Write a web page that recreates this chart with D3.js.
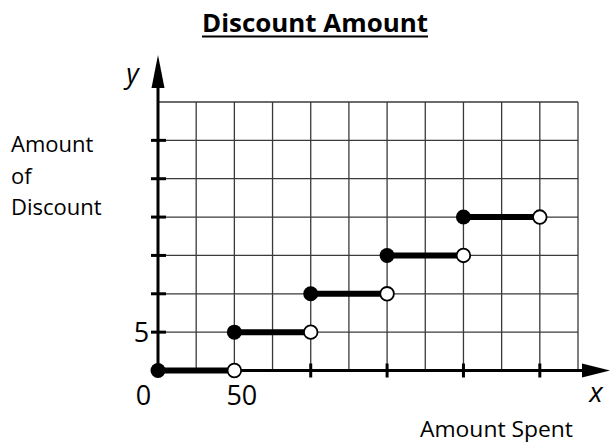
<!DOCTYPE html>
<html>
<head>
<meta charset="utf-8">
<script src="https://cdn.jsdelivr.net/npm/d3@7"></script>
<style>
  html, body { margin: 0; padding: 0; background: #fff; }
  svg { display: block; font-family: "Open Sans", sans-serif; }
</style>
</head>
<body>
<svg id="chart" width="612" height="445"></svg>
<script>
// ---- data ----
const stepStarts = [0, 50, 100, 150, 200];
const stepEnds   = [50, 100, 150, 200, 250];
const stepValues = [0, 5, 10, 15, 20];
const xTickValues = [50, 100, 150, 200, 250];
const yTickValues = [5, 10, 15, 20, 25, 30];
const xGridValues = [25, 50, 75, 100, 125, 150, 175, 200, 225, 250, 275];
const yGridValues = [5, 10, 15, 20, 25, 30, 35];
const xTickLabels = [{v: 0, t: "0"}, {v: 50, t: "50"}];
const yTickLabels = [{v: 5, t: "5"}];
const title = "Discount Amount";
const xAxisTitle = "Amount Spent";
const yAxisTitle = ["Amount", "of", "Discount"];

const svg = d3.select("#chart");
const x = d3.scaleLinear().domain([0, 275]).range([158, 578]);
const y = d3.scaleLinear().domain([0, 35]).range([370.5, 102]);

// grid
const grid = svg.append("g").attr("stroke", "#3a3a3a").attr("stroke-width", 1.3);
grid.selectAll("line.v").data(xGridValues).join("line")
  .attr("x1", d => x(d)).attr("x2", d => x(d))
  .attr("y1", y(0)).attr("y2", y(35));
grid.selectAll("line.h").data(yGridValues).join("line")
  .attr("x1", x(0)).attr("x2", x(275))
  .attr("y1", d => y(d)).attr("y2", d => y(d));

// axes
const ax = svg.append("g");
ax.append("line").attr("x1", x(0)).attr("x2", 586).attr("y1", y(0)).attr("y2", y(0))
  .attr("stroke", "#000").attr("stroke-width", 3);
ax.append("path").attr("d", `M610,${y(0)} L582,${y(0) - 7} L582,${y(0) + 7} Z`).attr("fill", "#000");
ax.append("line").attr("x1", x(0)).attr("x2", x(0)).attr("y1", y(0)).attr("y2", 84)
  .attr("stroke", "#000").attr("stroke-width", 3);
ax.append("path").attr("d", `M${x(0)},55 L${x(0) - 6.5},88 L${x(0) + 6.5},88 Z`).attr("fill", "#000");

// ticks
ax.selectAll("line.xt").data(xTickValues).join("line")
  .attr("x1", d => x(d)).attr("x2", d => x(d))
  .attr("y1", y(0) - 7).attr("y2", y(0) + 7)
  .attr("stroke", "#000").attr("stroke-width", 3);
ax.selectAll("line.yt").data(yTickValues).join("line")
  .attr("x1", x(0) - 7).attr("x2", x(0) + 8)
  .attr("y1", d => y(d)).attr("y2", d => y(d))
  .attr("stroke", "#000").attr("stroke-width", 3);

// step segments
const idx = d3.range(stepStarts.length);
svg.append("g").selectAll("line").data(idx).join("line")
  .attr("x1", i => x(stepStarts[i])).attr("x2", i => x(stepEnds[i]))
  .attr("y1", i => y(stepValues[i])).attr("y2", i => y(stepValues[i]))
  .attr("stroke", "#000").attr("stroke-width", 6);

// closed points
svg.append("g").selectAll("circle").data(idx).join("circle")
  .attr("cx", i => x(stepStarts[i])).attr("cy", i => y(stepValues[i]))
  .attr("r", 7.5).attr("fill", "#000");
// open points
svg.append("g").selectAll("circle").data(idx).join("circle")
  .attr("cx", i => x(stepEnds[i])).attr("cy", i => y(stepValues[i]))
  .attr("r", 6.8).attr("fill", "#fff").attr("stroke", "#000").attr("stroke-width", 1.8);

// tick labels
svg.append("text").attr("x", x(xTickLabels[0].v) - 14.5).attr("y", 405)
  .attr("text-anchor", "middle").attr("font-size", 27).text(xTickLabels[0].t);
svg.append("text").attr("x", x(xTickLabels[1].v) + 7.5).attr("y", 405)
  .attr("text-anchor", "middle").attr("font-size", 27).text(xTickLabels[1].t);
svg.append("text").attr("x", 141.5).attr("y", y(yTickLabels[0].v) + 10)
  .attr("text-anchor", "middle").attr("font-size", 27).text(yTickLabels[0].t);

// axis letters
svg.append("text").attr("x", 132.5).attr("y", 83).attr("text-anchor", "middle")
  .attr("font-size", 27).attr("font-style", "italic").text("y");
svg.append("text").attr("x", 596).attr("y", 402).attr("text-anchor", "middle")
  .attr("font-size", 28).attr("font-style", "italic").text("x");

// title
svg.append("text").attr("x", 315).attr("y", 32).attr("text-anchor", "middle")
  .attr("font-size", 25).attr("font-weight", "bold")
  .attr("textLength", 226).attr("lengthAdjust", "spacingAndGlyphs").text(title);
svg.append("line").attr("x1", 202).attr("x2", 428).attr("y1", 36.5).attr("y2", 36.5)
  .attr("stroke", "#000").attr("stroke-width", 2);

// axis titles
svg.append("text").attr("x", 420).attr("y", 437).attr("font-size", 22)
  .attr("textLength", 153).attr("lengthAdjust", "spacingAndGlyphs").text(xAxisTitle);
const yBase = [152, 184, 215];
svg.append("g").selectAll("text").data(yAxisTitle).join("text")
  .attr("x", 11).attr("y", (d, i) => yBase[i]).attr("font-size", 22).text(d => d);
</script>
</body>
</html>
